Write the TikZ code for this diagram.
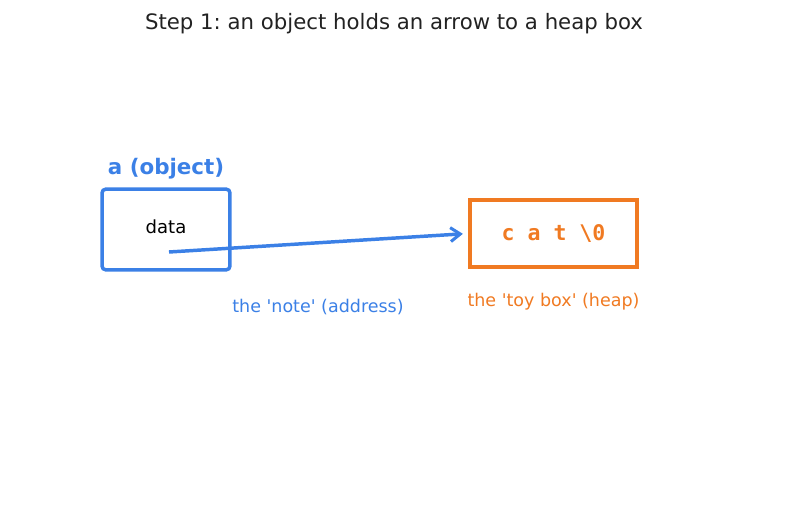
\documentclass[tikz,border=0pt]{standalone}
\usepackage{fontspec}
\setmainfont{DejaVu Sans}
\setmonofont{DejaVu Sans Mono}
\usetikzlibrary{arrows.meta,positioning}
\frenchspacing

\definecolor{objblue}{RGB}{59,128,230}
\definecolor{heaporange}{RGB}{240,122,34}
\definecolor{titlegray}{RGB}{34,34,34}

\begin{document}
\begin{tikzpicture}[
  x=0.72pt, y=-0.72pt,
  >={Straight Barb[length=7pt,width=10pt,line width=2.2pt]},
  objbox/.style={draw=objblue, line width=2.5pt, rounded corners=2.5pt, minimum width=92pt, minimum height=58pt, inner sep=0pt},
  heapbox/.style={draw=heaporange, line width=2.5pt, minimum width=120pt, minimum height=48pt, inner sep=0pt},
  caption/.style={font=\fontsize{12.6}{15}\selectfont, inner sep=0pt}
]
  \useasboundingbox (0,0) rectangle (787,508);

  \node[font=\fontsize{15.3}{18}\selectfont, text=titlegray] (title) at (394,24) {Step 1: an object holds an arrow to a heap box};

  \node[objbox] (obj) at (166,229.5) {};
  \node[font=\fontsize{13}{15}\selectfont] (data) at (166,227) {data};
  \node[font=\bfseries\fontsize{15.4}{18}\selectfont, text=objblue, inner sep=0pt] (objname) at (166,169) {a (object)};

  \node[heapbox] (heap) at (553.5,233.5) {};
  \node[font=\ttfamily\bfseries\fontsize{15.5}{18}\selectfont, text=heaporange, inner sep=0pt] (cells) at (553.5,234) {c a t \textbackslash0};
  \node[caption, text=heaporange, below=17.5pt of heap] (heapname) {the \textquotesingle toy box\textquotesingle\ (heap)};

  \coordinate (note) at (169,252);
  \node[caption, text=objblue] (notename) at (318,307.5) {the \textquotesingle note\textquotesingle\ (address)};

  \draw[->, objblue, line width=2.5pt, shorten >=4pt] (note) -- (heap.west);
\end{tikzpicture}
\end{document}
